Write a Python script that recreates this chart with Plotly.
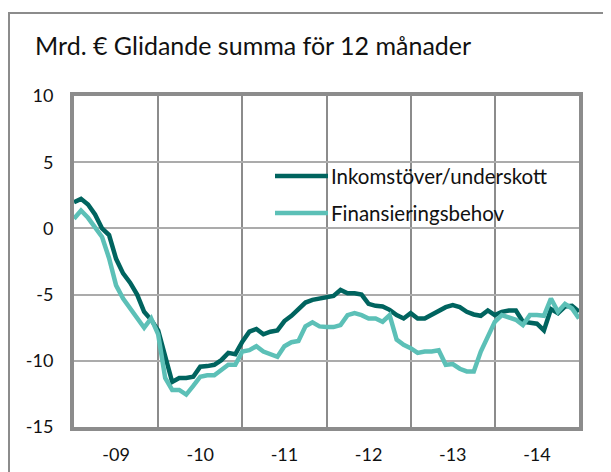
import numpy as np
import plotly.graph_objects as go

# Monthly values, Jan 2009 .. Jan 2015 (rolling 12-month sum, bn EUR)
inkomst = [1.98, 2.23, 1.8, 1.05, 0.0, -0.5, -2.3, -3.4, -4.1, -5.0, -6.3, -6.9,
           -7.7, -9.5, -11.6, -11.3, -11.3, -11.2, -10.45, -10.4, -10.3, -9.95, -9.4, -9.5,
           -8.55, -7.8, -7.6, -8.0, -7.8, -7.7, -7.0, -6.6, -6.1, -5.6, -5.4, -5.3,
           -5.15, -5.1, -4.65, -4.9, -4.9, -5.0, -5.7, -5.85, -5.9, -6.15, -6.55, -6.8,
           -6.4, -6.8, -6.8, -6.5, -6.2, -5.95, -5.8, -5.95, -6.3, -6.5, -6.6, -6.2,
           -6.55, -6.3, -6.2, -6.2, -7.05, -7.1, -7.2, -7.7, -6.1, -6.4, -5.9, -5.85,
           -6.3]
finans = [0.73, 1.35, 0.8, 0.0, -0.65, -2.25, -4.3, -5.3, -6.0, -6.8, -7.5, -6.8,
          -8.0, -11.3, -12.2, -12.2, -12.55, -11.9, -11.2, -11.1, -11.1, -10.7, -10.3, -10.3,
          -9.3, -9.2, -8.9, -9.3, -9.5, -9.7, -8.9, -8.6, -8.5, -7.4, -7.1, -7.4,
          -7.45, -7.45, -7.3, -6.55, -6.4, -6.55, -6.8, -6.8, -7.05, -6.55, -8.4, -8.8,
          -9.05, -9.4, -9.3, -9.3, -9.2, -10.3, -10.25, -10.6, -10.8, -10.8, -9.3, -8.2,
          -7.05, -6.55, -6.7, -6.9, -7.3, -6.55, -6.55, -6.6, -5.3, -6.3, -5.7, -6.05,
          -6.8]
series_names = ["Inkomstöver/underskott", "Finansieringsbehov"]
year_labels = ["-09", "-10", "-11", "-12", "-13", "-14"]
y_ticks = [-15, -10, -5, 0, 5, 10]
y_tick_labels = ["-15", "-10", "-5", "0", "5", "10"]
title_text = "Mrd. € Glidande summa för 12 månader"

months = np.arange(len(inkomst))
label_pos = [12 * i + 6 for i in range(len(year_labels))]

DARK = "#00645f"
LIGHT = "#5cc0b7"
FONT = "Lato, 'Noto Sans', sans-serif"

fig = go.Figure()
fig.add_trace(go.Scatter(x=months, y=inkomst, mode="lines", name=series_names[0],
                         line=dict(color=DARK, width=4.5), showlegend=False))
fig.add_trace(go.Scatter(x=months, y=finans, mode="lines", name=series_names[1],
                         line=dict(color=LIGHT, width=4.5), showlegend=False))

OFF = 8  # page body margin
W, H = 611 - OFF, 472 - OFF
L, R, T, B = 74 - OFF, 611 - 579, 96 - OFF, 472 - 427
pw, ph = W - L - R, H - T - B

def px_x(x):
    return (x - OFF - L) / pw

def px_y(y):
    return (H + OFF - B - y) / ph

fig.update_layout(
    width=W, height=H,
    margin=dict(l=L, r=R, t=T, b=B, autoexpand=False),
    paper_bgcolor="white", plot_bgcolor="white",
    font=dict(family=FONT, size=18, color="#111"),
    xaxis=dict(range=[0, 72], tickmode="array", tickvals=label_pos, ticktext=year_labels,
               showgrid=False, zeroline=False, ticks="", ticklabelstandoff=8, automargin=False,
               showline=True, linecolor="#8c8c8c", linewidth=4, mirror=True,
               minor=dict(tickmode="array", tickvals=[12, 24, 36, 48, 60],
                          showgrid=True, gridcolor="#8c8c8c", gridwidth=2, ticks="")),
    yaxis=dict(range=[-15, 10], tickmode="array", tickvals=y_ticks, ticktext=y_tick_labels,
               showgrid=True, gridcolor="#ababab", gridwidth=2, zeroline=False,
               ticks="", ticklabelstandoff=13, automargin=False,
               showline=True, linecolor="#8c8c8c", linewidth=4, mirror=True),
)

# Outer frame
fig.add_shape(type="rect", xref="paper", yref="paper",
              x0=px_x(9), y0=px_y(472 + 20), x1=px_x(611 + 20), y1=px_y(13),
              line=dict(color="#8c8c8c", width=2), fillcolor="rgba(0,0,0,0)", layer="below")

# Title
fig.add_annotation(text=title_text, xref="paper", yref="paper", x=px_x(33), y=px_y(45),
                   xanchor="left", yanchor="middle", showarrow=False,
                   font=dict(size=25, family=FONT, color="#111"))

# Legend
for i, (name, col) in enumerate(zip(series_names, [DARK, LIGHT])):
    yy = 176 + i * 37
    fig.add_shape(type="line", xref="paper", yref="paper",
                  x0=px_x(275), x1=px_x(328), y0=px_y(yy), y1=px_y(yy),
                  line=dict(color=col, width=4.5))
    fig.add_annotation(text=name, xref="paper", yref="paper", x=px_x(329), y=px_y(yy),
                       xanchor="left", yanchor="middle", showarrow=False,
                       font=dict(size=20.5, family=FONT, color="#111"))

fig.write_html("out.html")
